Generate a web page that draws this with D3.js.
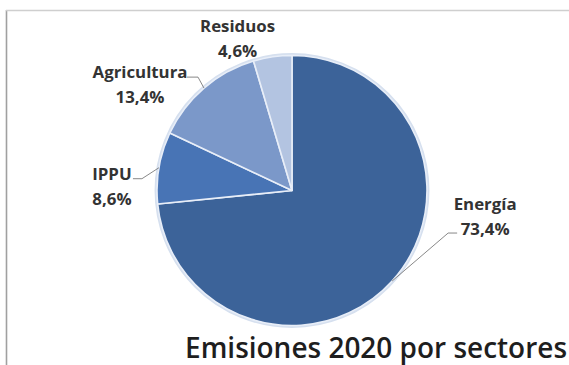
<!DOCTYPE html>
<html><head><meta charset="utf-8">
<script src="https://cdn.jsdelivr.net/npm/d3@7"></script>
<style>
html,body{margin:0;padding:0;background:#fff;}
svg{display:block;}
</style></head>
<body>
<script>
// ---- data ----
const categories = ["Energía", "IPPU", "Agricultura", "Residuos"];
const values = [73.4, 8.6, 13.4, 4.6];
const valueLabels = ["73,4%", "8,6%", "13,4%", "4,6%"];
const colors = ["#3c6399", "#4874b5", "#7b98c9", "#b3c4e1"];
const title = "Emisiones 2020 por sectores";

// ---- layout (style) ----
const W = 569, H = 365;
const cx = 292, cy = 190.5, R = 135;
// label offsets relative to arc edge point: [dx, dy] for the label block center, elbow
const labelLayout = [
  {dx: 93, dy: -65, elbow: [56, -48], end: [65, -48]},
  {dx: -47, dy: 19, elbow: [-17, 11], end: [-26, 11]},
  {dx: -64, dy: -4, elbow: [-6, -11], end: [-17, -11]},
  {dx: -35, dy: -18, elbow: null, end: null}
];

const svg = d3.select("body").append("svg").attr("width", W).attr("height", H);

// frame
svg.append("line").attr("x1", 6.5).attr("x2", 6.5).attr("y1", 10).attr("y2", H)
  .attr("stroke", "#a0a0a0").attr("stroke-width", 1.6);
svg.append("line").attr("x1", 6).attr("x2", W).attr("y1", 10.5).attr("y2", 10.5)
  .attr("stroke", "#cfcfcf").attr("stroke-width", 1.3);

const pie = d3.pie().sort(null).value(d => d)(values);
const arc = d3.arc().innerRadius(0).outerRadius(R);

const g = svg.append("g").attr("transform", `translate(${cx},${cy})`);
// soft outer rim
g.append("circle").attr("r", R + 1.2).attr("fill", "none")
  .attr("stroke", "#d6e0ef").attr("stroke-width", 2.5);
g.selectAll("path.slice").data(pie).join("path")
  .attr("class", "slice")
  .attr("d", arc)
  .attr("fill", (d, i) => colors[i])
  .attr("stroke", "#e8eef8").attr("stroke-width", 1.6)
  .attr("stroke-linejoin", "round");

// measure label font so "Agricultura" ≈ 95px wide
const fontFam = "'Open Sans', Lato, 'DejaVu Sans', sans-serif";
const probe = svg.append("text").attr("font-family", fontFam).attr("font-weight", "bold")
  .attr("font-size", 14).text("Agricultura");
const labelSize = 14 * 95 / probe.node().getComputedTextLength();
probe.remove();

pie.forEach((d, i) => {
  const a = (d.startAngle + d.endAngle) / 2;
  const ex = Math.sin(a) * R, ey = -Math.cos(a) * R;
  const L = labelLayout[i];
  if (L.elbow) {
    g.append("polyline")
      .attr("points", [[ex, ey], [ex + L.elbow[0], ey + L.elbow[1]], [ex + L.end[0], ey + L.end[1]]].map(p => p.join(",")).join(" "))
      .attr("fill", "none").attr("stroke", "#7a7a7a").attr("stroke-width", 0.9);
  }
  const x = ex + L.dx, y = ey + L.dy;
  const t = g.append("text")
    .attr("text-anchor", "middle")
    .attr("font-family", fontFam).attr("font-weight", "bold")
    .attr("font-size", labelSize).attr("fill", "#333");
  t.append("tspan").attr("x", x).attr("y", y - 12.5).attr("dy", "0.36em").text(categories[i]);
  t.append("tspan").attr("x", x).attr("y", y + 12.5).attr("dy", "0.36em").text(valueLabels[i]);
});

// title
const tt = svg.append("text").attr("x", 567).attr("y", 358)
  .attr("text-anchor", "end")
  .attr("font-family", fontFam).attr("font-size", 26).attr("font-weight", 600)
  .attr("fill", "#1e1e1e").text(title);
const tw = tt.node().getComputedTextLength();
tt.attr("font-size", 26 * 382 / tw);
</script>
</body></html>
